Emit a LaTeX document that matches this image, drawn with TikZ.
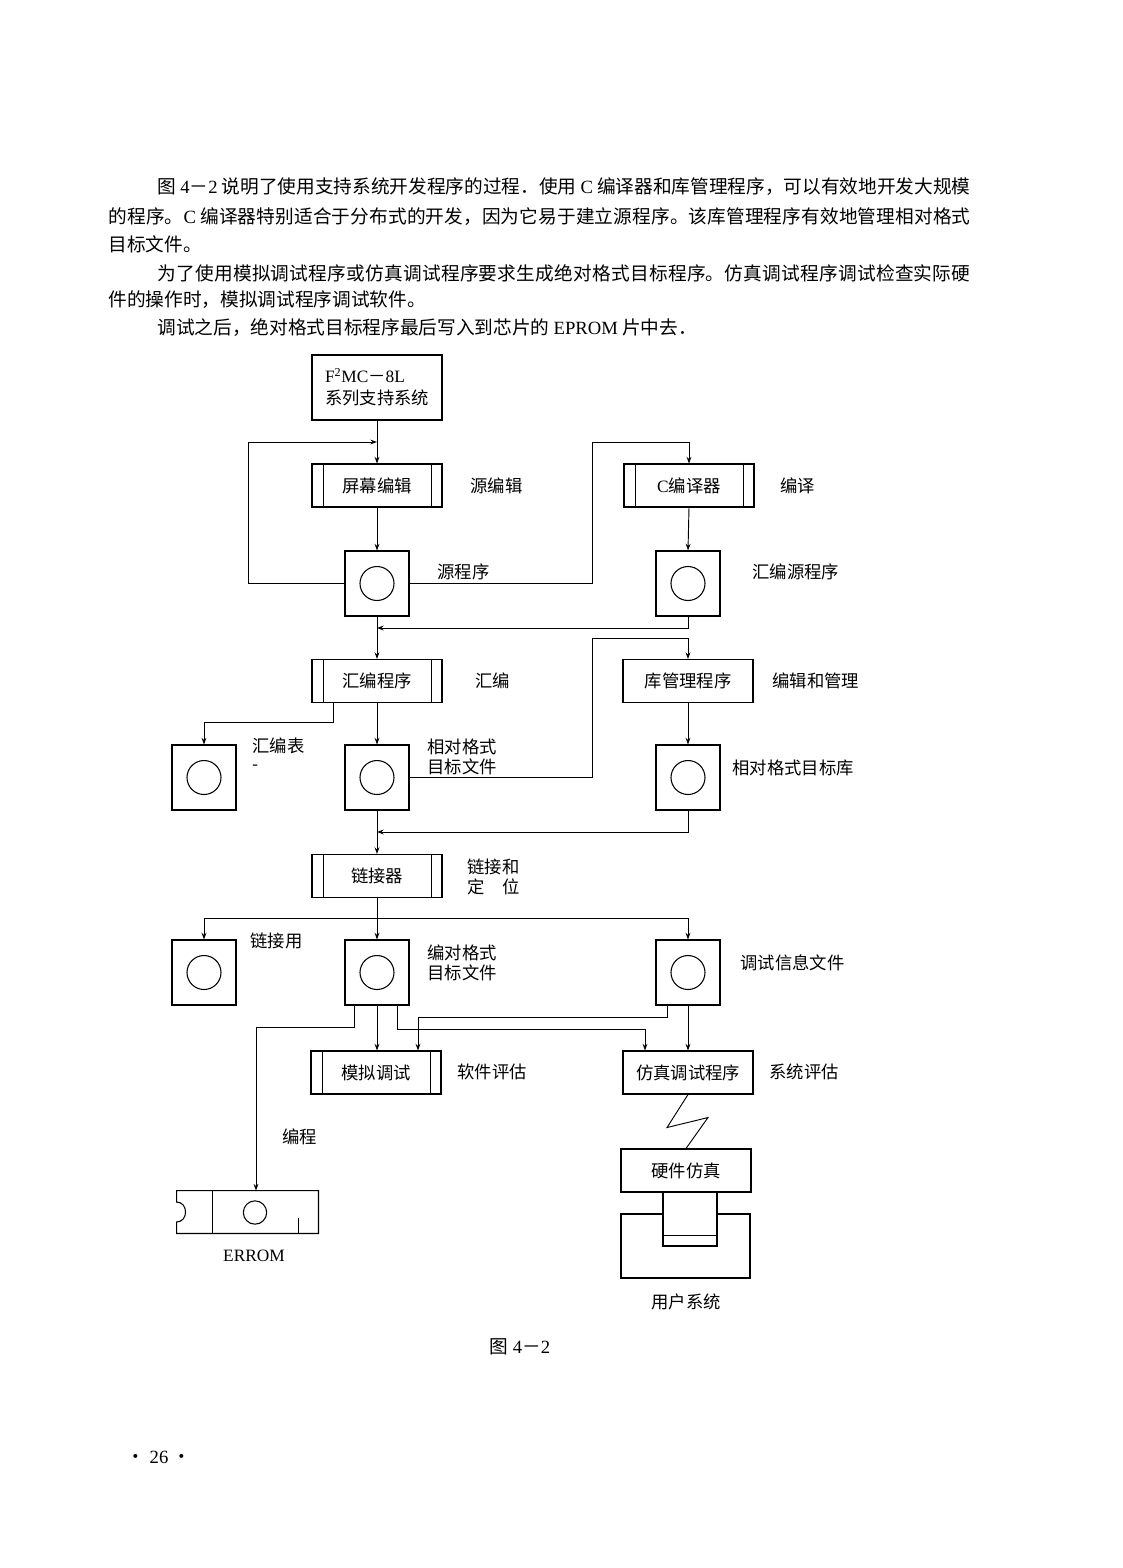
\documentclass[tikz,border=0pt]{standalone}
\usepackage{fontspec}
\setmainfont{Noto Sans CJK SC}
\newfontfamily\lat{Liberation Serif}
\usetikzlibrary{arrows.meta,calc}
\newcommand\lb{\fontsize{13pt}{15pt}\selectfont}
\newcommand\pf{\fontsize{14pt}{17pt}\selectfont}
\def\spr#1{\sprA#1\relax}
\def\sprA#1{\ifx\relax#1\else#1\hskip0pt plus 1pt\relax\expandafter\sprA\fi}
\begin{document}
\begin{tikzpicture}[x=0.75pt,y=-0.75pt,line width=0.7pt,
  arr/.style={-{Stealth[length=5pt,width=3.6pt]}},
  para/.style={anchor=west,inner sep=0pt,font=\pf},
  lbl/.style={anchor=west,inner sep=0pt,font=\lb,align=left},
  box/.style={draw,line width=0.8pt,minimum width=97.5pt,minimum height=32.25pt,inner sep=0pt,font=\lb},
  dbox/.style={box,path picture={
     \draw[line width=0.7pt] ([xshift=8.25pt]path picture bounding box.north west) -- ([xshift=8.25pt]path picture bounding box.south west);
     \draw[line width=0.7pt] ([xshift=-8.25pt]path picture bounding box.north east) -- ([xshift=-8.25pt]path picture bounding box.south east);}},
  file/.style={draw,line width=0.8pt,minimum width=48pt,minimum height=48.75pt,inner sep=0pt,
     path picture={\draw[line width=0.8pt] (path picture bounding box.center) circle [radius=12.75pt];}}
]
\useasboundingbox (0,0) rectangle (1122,1568);

% paragraph text
\node[para] (p1) at (157,187) {\makebox[609.75pt][s]{\spr{图} {\lat 4}－{\lat 2} \spr{说明了使用支持系统开发程序的过程．使用} {\lat C} \spr{编译器和库管理程序，可以有效地开发大规模}\unskip}};
\node[para] (p2) at (108,217) {\makebox[646.5pt][s]{\spr{的程序。}{\lat C} \spr{编译器特别适合于分布式的开发，因为它易于建立源程序。该库管理程序有效地管理相对格式}\unskip}};
\node[para] (p3) at (108,244) {目标文件。};
\node[para] (p4) at (157,273) {\makebox[609.75pt][s]{\spr{为了使用模拟调试程序或仿真调试程序要求生成绝对格式目标程序。仿真调试程序调试检查实际硬}\unskip}};
\node[para] (p5) at (108,300) {件的操作时，模拟调试程序调试软件。};
\node[para] (p6) at (157,328) {调试之后，绝对格式目标程序最后写入到芯片的 {\lat EPROM} 片中去．};

% boxes
\node[box,minimum height=48.75pt,align=left,font=\fontsize{13pt}{16.5pt}\selectfont] (top) at (377,387.5)
   {{\lat F\textsuperscript{2}MC}－{\lat 8L}\\系列支持系统};
\node[dbox] (pm) at (377,485.5) {屏幕编辑};
\node[dbox] (cc) at (689,485.5) {{\lat C}编译器};
\node[file] (src) at (377,583.5) {};
\node[file] (asrc) at (688,583.5) {};
\node[dbox] (asm) at (377,681) {汇编程序};
\node[box] (lib) at (688,681) {库管理程序};
\node[file] (tab) at (204,777.5) {};
\node[file] (rel) at (377,777.5) {};
\node[file] (rlib) at (688,777.5) {};
\node[dbox] (lnk) at (377,876) {链接器};
\node[file] (lmap) at (204,972.5) {};
\node[file] (abs) at (377,972.5) {};
\node[file] (dbg) at (688,972.5) {};
\node[dbox] (sim) at (376,1072.5) {模拟调试};
\node[box] (emu) at (688,1072.5) {仿真调试程序};
\node[box] (hw) at (686,1170.5) {硬件仿真};
\node[draw,line width=0.8pt,minimum width=96.75pt,minimum height=48pt,inner sep=0pt] (user) at (685.5,1246) {};
\node[draw,line width=0.8pt,fill=white,minimum width=40.5pt,minimum height=40.5pt,inner sep=0pt] (chip) at (690,1219) {};
\draw ($(chip.south west)+(0,-11)$) -- ($(chip.south east)+(0,-11)$);

% EPROM
\node[minimum width=105.75pt,minimum height=31.5pt,inner sep=0pt] (eprom) at (247.5,1212) {};
\draw[line width=0.8pt] (eprom.south west) -- ($(eprom.west)+(0,10)$)
   .. controls +(12,0) and +(12,0) .. ($(eprom.west)+(0,-10)$)
   -- (eprom.north west) -- (eprom.north east) -- (eprom.south east) -- cycle;
\draw ($(eprom.north west)+(36,0)$) -- ($(eprom.south west)+(36,0)$);
\draw ($(eprom.south east)+(-20,0)$) -- ++(0,-15);
\node[draw,line width=0.8pt,circle,minimum size=17.5pt,inner sep=0pt] (echip) at (255,1212.5) {};

% labels
\node[lbl] (l1) at (470,486) {源编辑};
\node[lbl] (l2) at (780,486) {编译};
\node[lbl] (l3) at (437,572) {源程序};
\node[lbl] (l4) at (752,572) {汇编源程序};
\node[lbl] (l5) at (475,681) {汇编};
\node[lbl] (l6) at (772,681) {编辑和管理};
\node[lbl] (l7) at (252,746) {汇编表};
\node[lbl] (l7b) at (252,768) {-};
\node[lbl] (l8) at (427,757) {相对格式\\目标文件};
\node[lbl] (l9) at (732,768) {相对格式目标库};
\node[lbl] (l10) at (467,876.5) {链接和\\定　位};
\node[lbl] (l11) at (250,941) {链接用};
\node[lbl] (l12) at (427,962.5) {编对格式\\目标文件};
\node[lbl] (l13) at (740,963) {调试信息文件};
\node[lbl] (l14) at (457,1072) {软件评估};
\node[lbl] (l15) at (769,1072) {系统评估};
\node[lbl] (l16) at (282,1137) {编程};
\node[inner sep=0pt,font=\lat\fontsize{13pt}{15pt}\selectfont] (ert) at (254,1256) {ERROM};
\node[inner sep=0pt,font=\lb] (ust) at (686,1302) {用户系统};
\node[inner sep=0pt,font=\pf] (cap) at (520,1347) {图 {\lat 4}－{\lat 2}};
\node[inner sep=0pt,font=\pf] (pnum) at (159,1457) {• {\lat 26} •};

% connectors
\coordinate (j1) at (377,442);
\coordinate (lp) at (248,442);
\coordinate (c1) at (592,442);
\coordinate (j2) at (377,628);
\coordinate (r1) at (592,638);
\coordinate (j3) at (377,832);
\coordinate (fan) at (377,918);
\coordinate (pg) at (256,1027);
\coordinate (e1) at (645,1029);
\coordinate (s1) at (418,1017);

\draw[arr] (top.south) -- (pm.north);
\draw[arr] (src.west) -| (lp) -- (j1);
\draw[arr] (pm.south) -- (src.north);
\draw[arr] (src.east) -| (c1) -| (cc.north);
\draw[arr] (cc.south) -- (asrc.north);
\draw[arr] (src.south) -- (asm.north);
\draw[arr] (asrc.south) |- (j2);
\draw[arr] (asm.south) -- (rel.north);
\draw[arr] ($(asm.south)+(-44,0)$) |- ($(tab.north)+(0,-22)$) -- (tab.north);
\draw[arr] (rel.east) -| (r1) -| (lib.north);
\draw[arr] (lib.south) -- (rlib.north);
\draw[arr] (rel.south) -- (lnk.north);
\draw[arr] (rlib.south) |- (j3);
\draw (lnk.south) -- (fan);
\draw[arr] (fan) -| (lmap.north);
\draw[arr] (fan) -| (dbg.north);
\draw[arr] (fan) -- (abs.north);
\draw[arr] ($(abs.south)+(-23,0)$) |- (pg) -- (pg |- eprom.north);
\draw[arr] (abs.south) -- (abs.south |- sim.north);
\draw[arr] ($(abs.south)+(20,0)$) |- (e1) -- (e1 |- emu.north);
\draw[arr] ($(dbg.south)+(-21,0)$) |- (s1) -- (s1 |- sim.north);
\draw[arr] (dbg.south) -- (emu.north);
\draw (emu.south) -- ++(-21,33) -- ++(41,-10) -- (hw.north);
\end{tikzpicture}
\end{document}
